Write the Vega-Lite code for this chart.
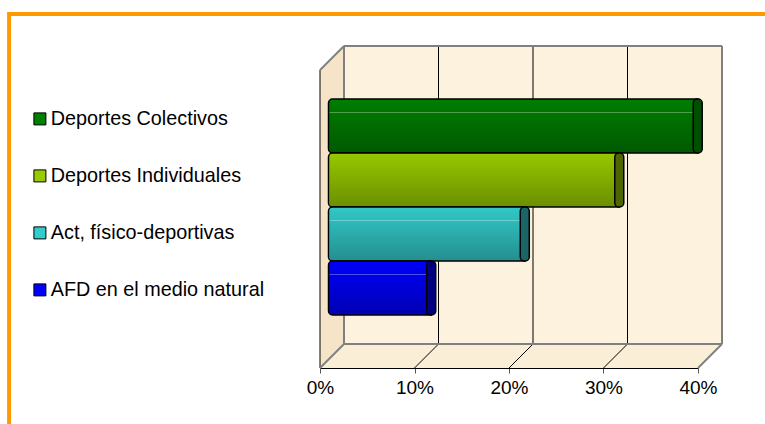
{
"$schema":"https://vega.github.io/schema/vega-lite/v6.json",
"width":378,"height":298,
"autosize":"none",
"padding":{"left":320,"top":70,"right":67,"bottom":56},
"background":"white",
"config":{"view":{"stroke":null},"font":"Liberation Sans"},
"datasets":{
"walls":[
{"x":0.0254,"x2":0.4254,"y":0.0805,"y2":1.0805}
],
"left":[
{"x":0,"y":0,"y2":1},{"x":0.0254,"y":0.0805,"y2":1.0805}
],
"floor":[
{"x":0,"y":0,"y2":0},{"x":0.0254,"y":0,"y2":0.0805},{"x":0.4,"y":0,"y2":0.0805},{"x":0.4254,"y":0.0805,"y2":0.0805}
],
"grey":[
{"x":0.0254,"y":0.0805,"x2":0.0254,"y2":1.0805},
{"x":0.0254,"y":1.0805,"x2":0.4254,"y2":1.0805},
{"x":0.4254,"y":1.0805,"x2":0.4254,"y2":0.0805},
{"x":0.0254,"y":0.0805,"x2":0.4254,"y2":0.0805},
{"x":0,"y":1,"x2":0.0254,"y2":1.0805},
{"x":0,"y":0,"x2":0.0254,"y2":0.0805},
{"x":0.4,"y":0,"x2":0.4254,"y2":0.0805}
],
"grid":[
{"x":0.1254,"y":0.0805,"x2":0.1254,"y2":1.0805},
{"x":0.2254,"y":0.0805,"x2":0.2254,"y2":1.0805},
{"x":0.3254,"y":0.0805,"x2":0.3254,"y2":1.0805},
{"x":0.1,"y":0,"x2":0.1254,"y2":0.0805},
{"x":0.2,"y":0,"x2":0.2254,"y2":0.0805},
{"x":0.3,"y":0,"x2":0.3254,"y2":0.0805},
{"x":0,"y":0,"x2":0,"y2":1}
],
"orange":[
{"x":-0.329,"y":1.188,"x2":0.48,"y2":1.188},
{"x":-0.329,"y":1.195,"x2":-0.329,"y2":-0.2}
],
"bars":[
{"name":"Deportes Colectivos","share":0.387},
{"name":"Deportes Individuales","share":0.304},
{"name":"Act, físico-deportivas","share":0.204},
{"name":"AFD en el medio natural","share":0.105}
]
},
"encoding":{
 "x":{"field":"x","type":"quantitative","scale":{"domain":[0,0.4],"nice":false,"zero":false},
   "axis":{"values":[0,0.1,0.2,0.3,0.4],"format":".0%","title":null,"grid":false,"domainColor":"#000","tickColor":"#555","tickSize":5,"labelFontSize":19,"labelColor":"#000","labelPadding":5,"labelFlush":false,"labelFont":"Liberation Sans"}},
 "y":{"field":"y","type":"quantitative","scale":{"domain":[0,1],"nice":false,"zero":false},"axis":null}
},
"layer":[
{"data":{"name":"orange"},"mark":{"type":"rule","color":"#ff9900","strokeWidth":4,"clip":false},
 "encoding":{"x2":{"field":"x2"},"y2":{"field":"y2"}}},
{"data":{"name":"walls"},"mark":{"type":"rect","fill":"#fdf2de"},
 "encoding":{"x2":{"field":"x2"},"y2":{"field":"y2"}}},
{"data":{"name":"left"},"mark":{"type":"area","fill":"#f6e4c9"},
 "encoding":{"y2":{"field":"y2"}}},
{"data":{"name":"floor"},"mark":{"type":"area","fill":"#fbeed6"},
 "encoding":{"y2":{"field":"y2"}}},
{"data":{"name":"grid"},"mark":{"type":"rule","color":"#000","strokeWidth":1},
 "encoding":{"x2":{"field":"x2"},"y2":{"field":"y2"}}},
{"data":{"name":"grey"},"mark":{"type":"rule","color":"#808080","strokeWidth":2},
 "encoding":{"x2":{"field":"x2"},"y2":{"field":"y2"}}},
{"data":{"name":"bars"},
 "encoding":{"y":{"field":"name","type":"nominal","sort":null,"axis":null,"scale":{"domain":["Deportes Colectivos","Deportes Individuales","Act, físico-deportivas","AFD en el medio natural"],"range":[29,245],"paddingInner":0,"paddingOuter":0}},
  "x":{"field":"share","type":"quantitative","scale":{"domain":[0,0.4],"nice":false,"zero":false}}},
 "layer":[
  {"mark":{"type":"bar","xOffset":12,"x2Offset":8.5,"cornerRadiusTopLeft":4,"cornerRadiusBottomLeft":4,"stroke":"#000","strokeWidth":1.5},
   "encoding":{"x2":{"datum":0},
    "color":{"field":"name","type":"nominal","sort":null,"scale":{"domain":["Deportes Colectivos","Deportes Individuales","Act, físico-deportivas","AFD en el medio natural"],"range":["#008000","#99cc00","#33cccc","#0000ff"]},
     "legend":{"orient":"none","legendX":-290,"legendY":39,"title":null,"symbolType":"square","symbolSize":144,"symbolStrokeColor":"#000","symbolStrokeWidth":1,"symbolOpacity":1,"labelFontSize":19.8,"labelFont":"Liberation Sans","labelColor":"#000","labelOffset":1,"rowPadding":36,"labelLimit":260}}}},
  {"mark":{"type":"bar","xOffset":12,"x2Offset":9.5,"cornerRadiusTopLeft":4,"cornerRadiusBottomLeft":4,"fill":{"gradient":"linear","x1":0,"y1":0,"x2":0,"y2":1,"stops":[{"offset":0,"color":"rgba(0,0,0,0.02)"},{"offset":1,"color":"rgba(0,0,0,0.3)"}]}},
   "encoding":{"x2":{"datum":0}}},
  {"transform":[{"filter":"datum.name !== 'Deportes Individuales'"}],
   "mark":{"type":"bar","xOffset":12,"x2Offset":9.5,"fill":{"gradient":"linear","x1":0,"y1":0,"x2":0,"y2":1,"stops":[{"offset":0,"color":"rgba(255,255,255,0)"},{"offset":0.235,"color":"rgba(255,255,255,0)"},{"offset":0.24,"color":"rgba(255,255,255,0.3)"},{"offset":0.255,"color":"rgba(255,255,255,0.3)"},{"offset":0.26,"color":"rgba(255,255,255,0)"},{"offset":1,"color":"rgba(255,255,255,0)"}]}},
   "encoding":{"x2":{"datum":0}}},
  {"mark":{"type":"bar","xOffset":7.5,"x2Offset":16.5,"cornerRadius":4,"stroke":"#000","strokeWidth":1.5},
   "encoding":{"x2":{"field":"share"},"fill":{"field":"name","type":"nominal","sort":null,"legend":null,"scale":{"domain":["Deportes Colectivos","Deportes Individuales","Act, físico-deportivas","AFD en el medio natural"],"range":["#004f00","#4d6600","#1a6666","#000080"]}}}}
 ]
}
],
"resolve":{"scale":{"y":"independent","fill":"independent"}}
}
